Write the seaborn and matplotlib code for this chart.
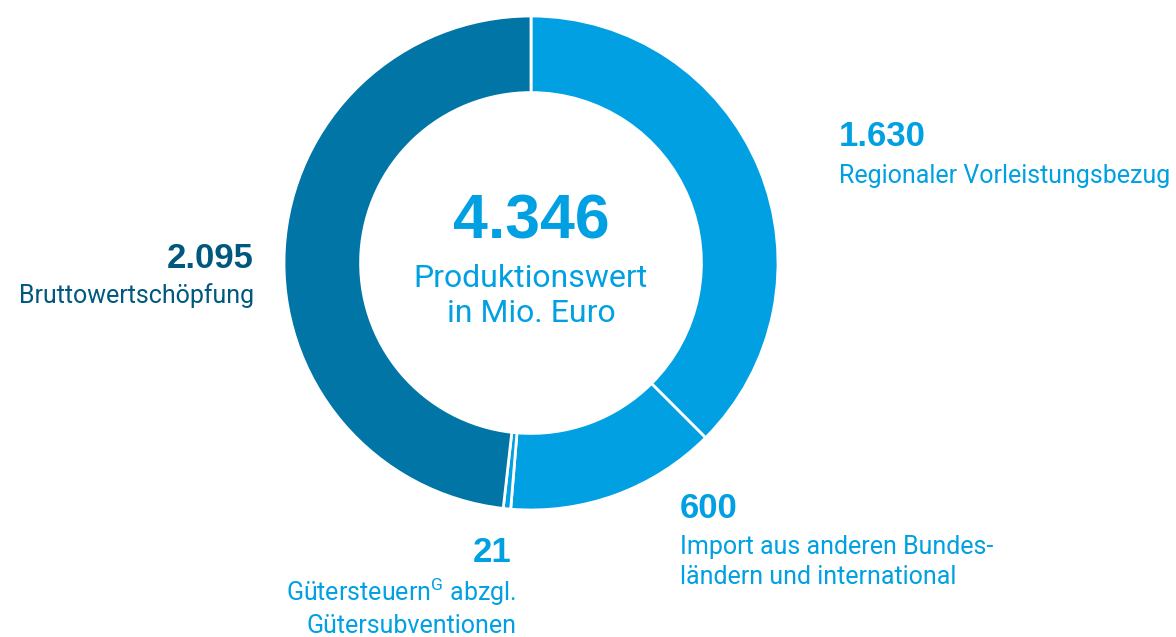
import matplotlib.pyplot as plt
import seaborn as sns

# Werte in Mio. Euro, im Uhrzeigersinn ab 12 Uhr
werte = [1630, 600, 21, 2095]
zahlen = ["1.630", "600", "21", "2.095"]
beschriftungen = [
    "Regionaler Vorleistungsbezug",
    "Import aus anderen Bundes-\nländern und international",
    "Gütersteuern$^{\\mathrm{G}}$ abzgl.\nGütersubventionen",
    "Bruttowertschöpfung",
]
gesamt = "4.346"
mitte_text = "Produktionswert\nin Mio. Euro"

HELL = "#00a0e3"
DUNKEL = "#0075a6"
DUNKEL_TEXT = "#00587f"
farben = [HELL, HELL, HELL, DUNKEL]

sns.set_theme(style="white")
plt.rcParams["font.family"] = ["Roboto", "DejaVu Sans"]
plt.rcParams["mathtext.fontset"] = "custom"
plt.rcParams["mathtext.rm"] = "Roboto"

fig = plt.figure(figsize=(11.76, 6.37), dpi=100)
ax = fig.add_axes([0, 0, 1, 1])

R = 247
ax.pie(
    werte,
    colors=farben,
    startangle=90,
    counterclock=False,
    radius=R,
    center=(531, 637 - 263),
    wedgeprops=dict(width=R * 0.31, edgecolor="white", linewidth=2),
    frame=True,
)
ax.set_xlim(0, 1176)
ax.set_ylim(0, 637)
ax.set_aspect("equal")
ax.axis("off")


def y(py):
    return 637 - py


# Mitte
ax.text(531, y(222), gesamt, ha="center", va="center", fontsize=45,
        fontweight="bold", color=HELL, family=["Liberation Sans", "DejaVu Sans"])
ax.text(531, y(296), mitte_text, ha="center", va="center", fontsize=23,
        color=HELL, linespacing=1.3)

zahl_font = dict(fontsize=25, fontweight="bold", family=["Liberation Sans", "DejaVu Sans"])
text_font = dict(fontsize=18, linespacing=1.3)

# 1.630
ax.text(839, y(137), zahlen[0], ha="left", va="center", color=HELL, **zahl_font)
ax.text(839, y(176), beschriftungen[0], ha="left", va="center", color=HELL, **text_font)

# 600
ax.text(680, y(508), zahlen[1], ha="left", va="center", color=HELL, **zahl_font)
ax.text(680, y(562), beschriftungen[1], ha="left", va="center", color=HELL, **text_font)

# 21
ax.text(512, y(553), zahlen[2], ha="right", va="center", color=HELL, **zahl_font)
ax.text(516, y(607), beschriftungen[2], ha="right", va="center", color=HELL,
        multialignment="right", **text_font)

# 2.095
ax.text(254, y(258), zahlen[3], ha="right", va="center", color=DUNKEL_TEXT, **zahl_font)
ax.text(254, y(296), beschriftungen[3], ha="right", va="center", color=DUNKEL_TEXT, **text_font)

fig.savefig("out.png", dpi=100, facecolor="white")
